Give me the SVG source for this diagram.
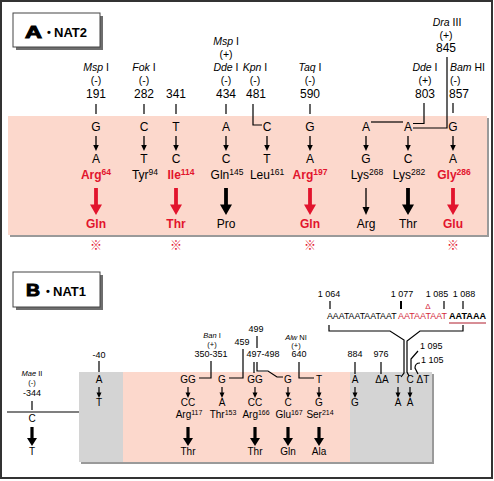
<svg xmlns="http://www.w3.org/2000/svg" width="494" height="481" viewBox="0 0 494 481">
<style>
text{font-family:"Liberation Sans",Arial,sans-serif;fill:#000}
.m{text-anchor:middle}
.s{text-anchor:start}
.n{font-size:12px}
.l{font-size:10.5px}
.bl{font-size:9px}
.bt{font-size:10px}
.tiny{font-size:7.5px}
.it{font-style:italic}
.b{font-weight:bold}
.red{fill:#e2142d}
.dred{fill:#d42a3c}
.ln{stroke:#000;stroke-width:1.2;fill:none}
.ast{font-family:"Noto Sans CJK JP",sans-serif;font-size:12px;fill:#e2142d}
.box{fill:#fff;stroke:#444;stroke-width:1}
.shadow{fill:#6e6e6e}
.big{font-size:17px;font-weight:bold;stroke:#000;stroke-width:1}
</style>
<defs>
<g id="sa"><path d="M0,0V10" stroke="#000" stroke-width="1.3"/><path d="M-2.8,9H2.8L0,15Z"/></g>
<g id="sb"><path d="M0,0V6" stroke="#000" stroke-width="1.2"/><path d="M-2.5,5.5H2.5L0,11Z"/></g>
<path id="ta" d="M-1.9,0H1.9V16.5H6L0,27L-6,16.5H-1.9Z"/>
<g id="tn"><path d="M0,0V21" stroke="#000" stroke-width="1.3"/><path d="M-3.5,19H3.5L0,27Z"/></g>
<path id="tb" d="M-1.6,0H1.6V11H5L0,19L-5,11H-1.6Z"/>
</defs>

<rect x="1" y="1" width="491" height="477" fill="#fff" stroke="#333" stroke-width="2"/>

<!-- Panel A -->
<g id="panelA-label">
<rect class="shadow" x="16" y="16" width="87" height="34"/>
<rect class="box" x="13" y="13" width="87" height="34"/>
<text class="big" x="25" y="37.5" textLength="17" lengthAdjust="spacingAndGlyphs">A</text>
<text x="47" y="36" font-size="11" font-weight="bold">•</text>
<text x="54" y="37" font-size="13" font-weight="bold">NAT2</text>
</g>
<g id="panelA-band">
<rect x="10" y="118" width="479" height="119" fill="#9a9a9a"/>
<rect x="8" y="116" width="479" height="119" fill="#fcd8cc"/>
</g>

<g id="connectorsA">
<path class="ln" d="M96,104V114M144,104V114M176,104V114M226,104V114M310,104V114M453,103V113"/>
<path class="ln" d="M253,104V125H262"/>
<path class="ln" d="M424,103V123.5H413"/>
<path class="ln" d="M447,57V128H413"/>
<path class="ln" d="M371,122H403"/>
<use href="#sa" x="96" y="136"/><use href="#sa" x="144" y="136"/><use href="#sa" x="176" y="136"/>
<use href="#sa" x="226" y="136"/><use href="#sa" x="267" y="136"/><use href="#sa" x="310" y="136"/>
<use href="#sa" x="366" y="136"/><use href="#sa" x="408" y="136"/><use href="#sa" x="453" y="136"/>
<use href="#ta" x="96" y="188" fill="#e2142d"/>
<use href="#ta" x="176" y="188" fill="#e2142d"/>
<use href="#ta" x="226" y="188" fill="#000"/>
<use href="#ta" x="310" y="188" fill="#e2142d"/>
<use href="#tn" x="366" y="188" fill="#000"/>
<use href="#ta" x="408" y="188" fill="#000"/>
<use href="#ta" x="453" y="188" fill="#e2142d"/>
</g>

<g id="a-191">
<text class="l m" x="96" y="71"><tspan class="it">Msp</tspan> I</text>
<text class="l m" x="96" y="84">(-)</text>
<text class="n m" x="96" y="98">191</text>
<text class="n m" x="96" y="131">G</text><text class="n m" x="96" y="163">A</text>
<text class="n m b red" x="96" y="179">Arg<tspan font-size="8.5" dy="-4">64</tspan></text>
<text class="n m b red" x="96" y="228">Gln</text>
<text class="ast m" x="96" y="250">※</text>
</g>
<g id="a-282">
<text class="l m" x="144" y="71"><tspan class="it">Fok</tspan> I</text>
<text class="l m" x="144" y="84">(-)</text>
<text class="n m" x="144" y="98">282</text>
<text class="n m" x="144" y="131">C</text><text class="n m" x="144" y="163">T</text>
<text class="n m" x="145" y="179">Tyr<tspan font-size="8.5" dy="-4">94</tspan></text>
</g>
<g id="a-341">
<text class="n m" x="176" y="98">341</text>
<text class="n m" x="176" y="131">T</text><text class="n m" x="176" y="163">C</text>
<text class="n m b red" x="181" y="179">Ile<tspan font-size="8.5" dy="-4">114</tspan></text>
<text class="n m b red" x="176" y="228">Thr</text>
<text class="ast m" x="176" y="250">※</text>
</g>
<g id="a-434">
<text class="l m" x="226" y="45"><tspan class="it">Msp</tspan> I</text>
<text class="l m" x="226" y="58">(+)</text>
<text class="l m" x="226" y="71"><tspan class="it">Dde</tspan> I</text>
<text class="l m" x="226" y="84">(-)</text>
<text class="n m" x="226" y="98">434</text>
<text class="n m" x="226" y="131">A</text><text class="n m" x="226" y="163">C</text>
<text class="n m" x="227" y="179">Gln<tspan font-size="8.5" dy="-4">145</tspan></text>
<text class="n m" x="226" y="228">Pro</text>
</g>
<g id="a-481">
<text class="l m" x="255" y="71"><tspan class="it">Kpn</tspan> I</text>
<text class="l m" x="255" y="84">(-)</text>
<text class="n m" x="256" y="98">481</text>
<text class="n m" x="267" y="131">C</text><text class="n m" x="267" y="163">T</text>
<text class="n m" x="267" y="179">Leu<tspan font-size="8.5" dy="-4">161</tspan></text>
</g>
<g id="a-590">
<text class="l m" x="310" y="71"><tspan class="it">Taq</tspan> I</text>
<text class="l m" x="310" y="84">(-)</text>
<text class="n m" x="310" y="98">590</text>
<text class="n m" x="310" y="131">G</text><text class="n m" x="310" y="163">A</text>
<text class="n m b red" x="310" y="179">Arg<tspan font-size="8.5" dy="-4">197</tspan></text>
<text class="n m b red" x="310" y="228">Gln</text>
<text class="ast m" x="310" y="250">※</text>
</g>
<g id="a-268">
<text class="n m" x="366" y="131">A</text><text class="n m" x="366" y="163">G</text>
<text class="n m" x="367" y="179">Lys<tspan font-size="8.5" dy="-4">268</tspan></text>
<text class="n m" x="366" y="228">Arg</text>
</g>
<g id="a-803">
<text class="l m" x="425" y="71"><tspan class="it">Dde</tspan> I</text>
<text class="l m" x="425" y="84">(+)</text>
<text class="n m" x="425" y="98">803</text>
<text class="n m" x="408" y="131">A</text><text class="n m" x="408" y="163">C</text>
<text class="n m" x="409" y="179">Lys<tspan font-size="8.5" dy="-4">282</tspan></text>
<text class="n m" x="408" y="228">Thr</text>
</g>
<g id="a-845">
<text class="l m" x="447" y="26"><tspan class="it">Dra</tspan> III</text>
<text class="l m" x="446" y="39">(+)</text>
<text class="n m" x="446" y="52">845</text>
</g>
<g id="a-857">
<text class="l s" x="450" y="71"><tspan class="it">Bam</tspan> HI</text>
<text class="l s" x="450" y="84">(-)</text>
<text class="n s" x="449" y="98">857</text>
<text class="n m" x="453" y="131">G</text><text class="n m" x="453" y="163">A</text>
<text class="n m b red" x="454" y="179">Gly<tspan font-size="8.5" dy="-4">286</tspan></text>
<text class="n m b red" x="453" y="228">Glu</text>
<text class="ast m" x="453" y="250">※</text>
</g>

<!-- Panel B -->
<g id="panelB-label">
<rect class="shadow" x="16" y="275" width="87" height="35"/>
<rect class="box" x="13" y="272" width="87" height="35"/>
<text class="big" x="26" y="295.5" textLength="14" lengthAdjust="spacingAndGlyphs">B</text>
<text x="46" y="295" font-size="11" font-weight="bold">•</text>
<text x="53" y="296" font-size="13" font-weight="bold">NAT1</text>
</g>
<g id="panelB-band">
<rect x="81" y="374" width="353" height="90" fill="#9a9a9a"/>
<rect x="79" y="372" width="353" height="90" fill="#d4d4d4"/>
<rect x="123" y="372" width="227" height="90" fill="#fcd8cc"/>
</g>

<g id="connectorsB">
<path class="ln" d="M7,412H79"/>
<path class="ln" d="M32,401V410"/>
<path class="ln" d="M99,361V372"/>
<path class="ln" d="M211,361V378H199"/>
<path class="ln" d="M243,349V378H229"/>
<path class="ln" d="M257,336V348"/>
<path class="ln" d="M254,362V373"/>
<path class="ln" d="M257,362V371H268L277,377H283"/>
<path class="ln" d="M299,362V378H314"/>
<path class="ln" d="M355,362V374M381,362V374"/>
<path class="ln" d="M330,301V309M444,301V309M463,301V309"/>
<path stroke="#000" stroke-width="2" d="M401,301V309"/>
<path class="ln" d="M329,325V331H390L404,340V373L401,377"/>
<path class="ln" d="M463,325V331H420L407,341V372L409,376"/>
<path class="ln" d="M418,351L411,359V370"/>
<path class="ln" d="M420,363Q415,363 415,368L418,374"/>
<path stroke="#b01c2c" stroke-width="1" d="M449,323H486"/>
<use href="#sb" x="99" y="387"/><use href="#sb" x="188" y="387"/><use href="#sb" x="222" y="387"/>
<use href="#sb" x="255" y="387"/><use href="#sb" x="288" y="387"/><use href="#sb" x="319" y="387"/>
<use href="#sb" x="355" y="387"/><use href="#sb" x="398" y="387"/><use href="#sb" x="410" y="387"/>
<use href="#tb" x="32" y="427" fill="#000"/>
<use href="#tb" x="188" y="427" fill="#000"/>
<use href="#tb" x="255" y="427" fill="#000"/>
<use href="#tb" x="288" y="427" fill="#000"/>
<use href="#tb" x="319" y="427" fill="#000"/>
</g>

<g id="b-m344">
<text class="tiny m" x="32" y="376"><tspan class="it">Mae</tspan> II</text>
<text class="tiny m" x="32" y="385">(-)</text>
<text class="bl m" x="32" y="396">-344</text>
<text class="bt m" x="32" y="422">C</text>
<text class="bt m" x="32" y="455">T</text>
</g>
<g id="b-m40">
<text class="bl m" x="99" y="358">-40</text>
<text class="bt m" x="99" y="383">A</text>
<text class="bt m" x="99" y="406">T</text>
</g>
<g id="b-350">
<text class="tiny m" x="212" y="338"><tspan class="it">Ban</tspan> I</text>
<text class="tiny m" x="212" y="347">(+)</text>
<text class="bl m" x="211" y="357">350-351</text>
<text class="bt m" x="188" y="383">GG</text>
<text class="bt m" x="188" y="406">CC</text>
<text class="bt m" x="189" y="418">Arg<tspan font-size="7" dy="-3">117</tspan></text>
<text class="bt m" x="188" y="455">Thr</text>
</g>
<g id="b-459">
<text class="bl m" x="242" y="345">459</text>
<text class="bt m" x="222" y="383">G</text>
<text class="bt m" x="222" y="406">A</text>
<text class="bt m" x="223" y="418">Thr<tspan font-size="7" dy="-3">153</tspan></text>
</g>
<g id="b-497">
<text class="bl m" x="263" y="357">497-498</text>
<text class="bt m" x="255" y="383">GG</text>
<text class="bt m" x="255" y="406">CC</text>
<text class="bt m" x="256" y="418">Arg<tspan font-size="7" dy="-3">166</tspan></text>
<text class="bt m" x="255" y="455">Thr</text>
</g>
<g id="b-499">
<text class="bl m" x="256" y="332">499</text>
<text class="bt m" x="288" y="383">G</text>
<text class="bt m" x="288" y="406">C</text>
<text class="bt m" x="289" y="418">Glu<tspan font-size="7" dy="-3">167</tspan></text>
<text class="bt m" x="288" y="455">Gln</text>
</g>
<g id="b-640">
<text class="tiny m" x="296" y="340"><tspan class="it">Alw</tspan> NI</text>
<text class="tiny m" x="296" y="348">(+)</text>
<text class="bl m" x="299" y="357">640</text>
<text class="bt m" x="319" y="383">T</text>
<text class="bt m" x="319" y="406">G</text>
<text class="bt m" x="320" y="418">Ser<tspan font-size="7" dy="-3">214</tspan></text>
<text class="bt m" x="319" y="455">Ala</text>
</g>
<g id="b-884">
<text class="bl m" x="355" y="357">884</text>
<text class="bt m" x="355" y="383">A</text>
<text class="bt m" x="355" y="406">G</text>
</g>
<g id="b-976">
<text class="bl m" x="381" y="357">976</text>
<text class="bt m" x="382" y="383">ΔA</text>
</g>
<g id="b-3utr">
<text class="bt m" x="398" y="383">T</text>
<text class="bt m" x="398" y="406">A</text>
<text class="bt m" x="410" y="383">C</text>
<text class="bt m" x="410" y="406">A</text>
<text class="bt m" x="423" y="383">ΔT</text>
<text class="bl s" x="420" y="349">1 095</text>
<text class="bl s" x="421" y="363">1 105</text>
</g>
<g id="b-seq">
<text class="bl m" x="329" y="297">1 064</text>
<text class="bl m" x="402" y="297">1 077</text>
<text class="bl m" x="437" y="297">1 085</text>
<text class="bl m" x="464" y="297">1 088</text>
<text class="dred m" x="428" y="309" font-size="8">Δ</text>
<text x="327" y="319" font-size="9.5" textLength="69.5" lengthAdjust="spacingAndGlyphs">AAATAATAATAAT</text>
<text class="dred" x="398" y="319" font-size="9.5" textLength="49" lengthAdjust="spacingAndGlyphs">AATAATAAT</text>
<text x="449" y="319" font-size="9.5" font-weight="bold" textLength="37" lengthAdjust="spacingAndGlyphs">AATAAA</text>
</g>
</svg>
